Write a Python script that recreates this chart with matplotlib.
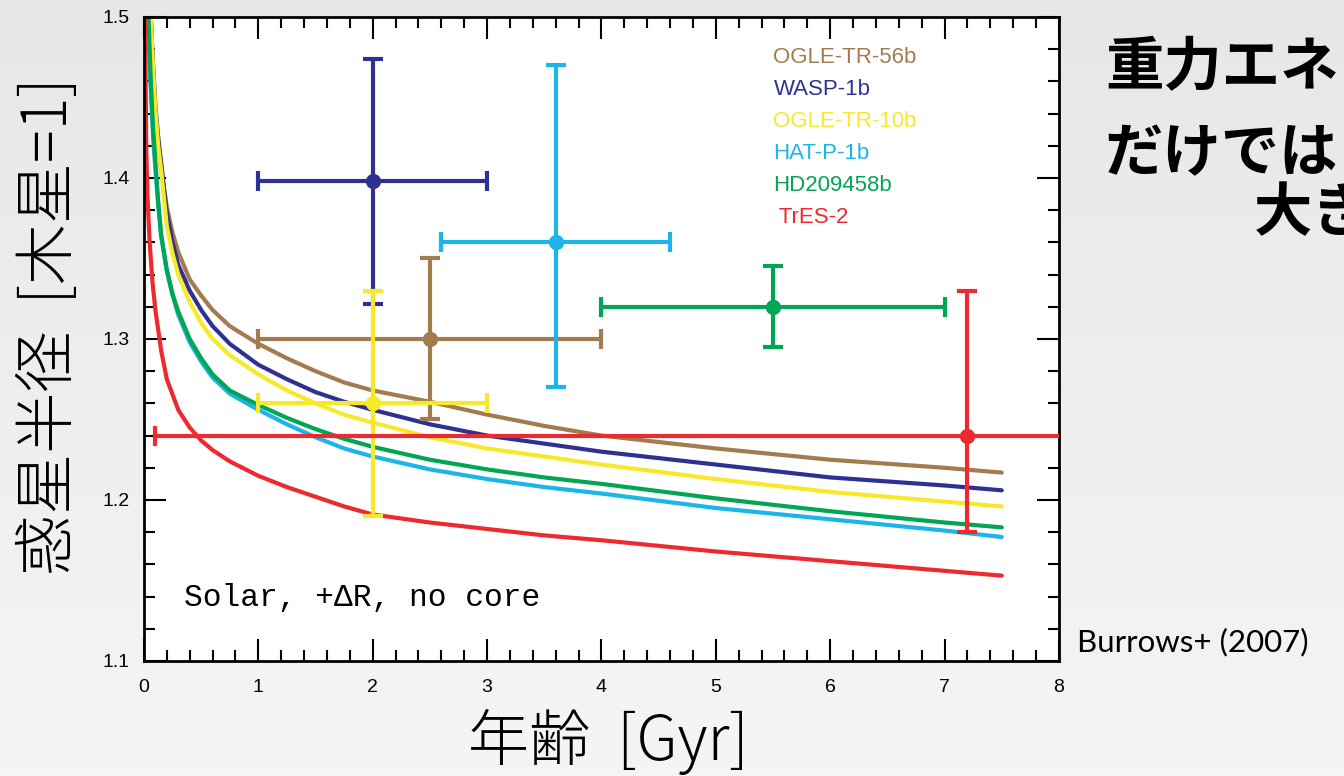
import numpy as np
import matplotlib
matplotlib.use("Agg")
import matplotlib.pyplot as plt
from matplotlib.ticker import MultipleLocator

# --- data ------------------------------------------------------------------
planets = ["OGLE-TR-56b", "WASP-1b", "OGLE-TR-10b", "HAT-P-1b", "HD209458b", "TrES-2"]
colors = ["#a37b4e", "#2e3192", "#f7e92a", "#1bb5ea", "#00a651", "#ed2a30"]

# evolutionary tracks (age [Gyr], radius [R_J])
age_56b = [0.06, 0.08, 0.1, 0.125, 0.15, 0.2, 0.25, 0.3, 0.4, 0.5, 0.6, 0.75, 1.0,
           1.25, 1.5, 1.75, 2.0, 2.5, 3.0, 3.5, 4.0, 5.0, 6.0, 7.0, 7.5]
rad_56b = [1.500, 1.465, 1.440, 1.420, 1.405, 1.382, 1.366, 1.354, 1.337, 1.327, 1.318, 1.308, 1.297,
           1.288, 1.280, 1.273, 1.268, 1.261, 1.253, 1.246, 1.240, 1.232, 1.225, 1.220, 1.217]

age_w1 = [0.06, 0.08, 0.1, 0.125, 0.15, 0.2, 0.25, 0.3, 0.4, 0.5, 0.6, 0.75, 1.0,
          1.25, 1.5, 1.75, 2.0, 2.5, 3.0, 3.5, 4.0, 5.0, 6.0, 7.0, 7.5]
rad_w1 = [1.500, 1.470, 1.445, 1.425, 1.410, 1.378, 1.360, 1.346, 1.330, 1.318, 1.308, 1.297, 1.284,
          1.275, 1.267, 1.261, 1.256, 1.247, 1.240, 1.235, 1.230, 1.222, 1.214, 1.209, 1.206]

age_10b = [0.06, 0.08, 0.1, 0.125, 0.15, 0.2, 0.25, 0.3, 0.4, 0.5, 0.6, 0.75, 1.0,
           1.25, 1.5, 1.75, 2.0, 2.5, 3.0, 3.5, 4.0, 5.0, 6.0, 7.0, 7.5]
rad_10b = [1.500, 1.468, 1.443, 1.420, 1.405, 1.370, 1.353, 1.340, 1.323, 1.310, 1.300, 1.290, 1.278,
           1.268, 1.260, 1.253, 1.248, 1.239, 1.232, 1.227, 1.222, 1.213, 1.205, 1.199, 1.196]

age_hat = [0.03, 0.06, 0.08, 0.1, 0.125, 0.15, 0.2, 0.25, 0.3, 0.4, 0.5, 0.6, 0.75, 1.0,
           1.25, 1.5, 1.75, 2.0, 2.5, 3.0, 3.5, 4.0, 5.0, 6.0, 7.0, 7.5]
rad_hat = [1.500, 1.455, 1.425, 1.405, 1.383, 1.364, 1.342, 1.327, 1.315, 1.298, 1.286, 1.276, 1.266, 1.256,
           1.247, 1.239, 1.232, 1.227, 1.219, 1.213, 1.208, 1.204, 1.195, 1.188, 1.181, 1.177]

age_hd = [0.04, 0.06, 0.08, 0.1, 0.125, 0.15, 0.2, 0.25, 0.3, 0.4, 0.5, 0.6, 0.75, 1.0,
          1.25, 1.5, 1.75, 2.0, 2.5, 3.0, 3.5, 4.0, 5.0, 6.0, 7.0, 7.5]
rad_hd = [1.500, 1.460, 1.430, 1.410, 1.385, 1.365, 1.343, 1.328, 1.317, 1.300, 1.288, 1.278, 1.268, 1.259,
          1.251, 1.244, 1.238, 1.233, 1.225, 1.219, 1.214, 1.210, 1.201, 1.193, 1.186, 1.183]

age_tres = [0.01, 0.02, 0.03, 0.05, 0.075, 0.1, 0.15, 0.2, 0.3, 0.4, 0.5, 0.6, 0.75, 1.0,
            1.25, 1.5, 1.75, 2.0, 2.5, 3.0, 3.5, 4.0, 5.0, 6.0, 7.0, 7.5]
rad_tres = [1.500, 1.420, 1.390, 1.360, 1.335, 1.318, 1.293, 1.275, 1.256, 1.245, 1.237, 1.231, 1.224, 1.215,
            1.208, 1.202, 1.196, 1.191, 1.186, 1.182, 1.178, 1.175, 1.168, 1.162, 1.156, 1.153]

tracks = [(age_56b, rad_56b), (age_w1, rad_w1), (age_10b, rad_10b),
          (age_hat, rad_hat), (age_hd, rad_hd), (age_tres, rad_tres)]

# observed planets
obs_age = [2.5, 2.0, 2.0, 3.6, 5.5, 7.2]
obs_age_err = [1.5, 1.0, 1.0, 1.0, 1.5, 7.1]
obs_rad = [1.30, 1.398, 1.26, 1.36, 1.32, 1.24]
obs_rad_lo = [0.05, 0.076, 0.07, 0.09, 0.025, 0.06]
obs_rad_hi = [0.05, 0.076, 0.07, 0.11, 0.025, 0.09]

# --- figure ------------------------------------------------------------------
fig = plt.figure(figsize=(13.44, 7.76), dpi=100)

# slide background gradient
bg = fig.add_axes([0, 0, 1, 1], zorder=-10)
grad = np.linspace(0, 1, 256).reshape(-1, 1)
bg.imshow(grad, aspect="auto", cmap=matplotlib.colors.LinearSegmentedColormap.from_list(
    "slide", ["#e7e7e7", "#f5f5f5"]), extent=[0, 1, 0, 1])
bg.axis("off")

ax = fig.add_axes([0.1071, 0.1482, 0.6808, 0.8300])
ax.set_facecolor("white")

for (a, r), c in zip(tracks, colors):
    ax.plot(a, r, color=c, lw=3, solid_capstyle="round", solid_joinstyle="round", zorder=2)

for i, c in enumerate(colors):
    ax.errorbar(obs_age[i], obs_rad[i],
                xerr=[[obs_age_err[i]], [obs_age_err[i]]],
                yerr=[[obs_rad_lo[i]], [obs_rad_hi[i]]],
                fmt="o", color=c, ms=10, elinewidth=3, capsize=7, capthick=3, zorder=3)

ax.set_xlim(0, 8)
ax.set_ylim(1.1, 1.5)
ax.xaxis.set_major_locator(MultipleLocator(1))
ax.xaxis.set_minor_locator(MultipleLocator(0.2))
ax.yaxis.set_major_locator(MultipleLocator(0.1))
ax.yaxis.set_minor_locator(MultipleLocator(0.02))
ax.tick_params(which="both", direction="in", top=True, right=True, width=1.5, colors="black")
ax.tick_params(which="major", length=16, labelsize=14)
ax.tick_params(axis="x", which="major", pad=13)
ax.tick_params(axis="y", which="major", pad=10)
ax.tick_params(which="minor", length=8)
ax.set_xticks(range(9))
ax.set_xticklabels([str(v) for v in range(9)], family="Liberation Sans")
ax.set_yticks([1.1, 1.2, 1.3, 1.4, 1.5])
ax.set_yticklabels(["1.1", "1.2", "1.3", "1.4", "1.5"], family="Liberation Sans")
for s in ax.spines.values():
    s.set_linewidth(2)

# legend as coloured text
for i, (name, c) in enumerate(zip(planets, colors)):
    label = " " + name if name == "TrES-2" else name
    ax.text(0.688, 0.9363 - i * 0.0497, label, color=c, fontsize=16,
            family="Liberation Sans", transform=ax.transAxes, va="center")

ax.text(0.044, 0.098, "Solar, +ΔR, no core", family="Liberation Mono",
        fontsize=22.5, transform=ax.transAxes, va="center")

ax.set_xlabel("年齢  [Gyr]", family=["Noto Sans CJK JP", "DejaVu Sans"], fontweight="light",
              fontsize=44)
ax.xaxis.set_label_coords(0.508, -0.074)
ax.set_ylabel("惑星半径  [木星=1]", family=["Noto Sans CJK JP", "DejaVu Sans"], fontweight="light",
              fontsize=44)
ax.yaxis.set_label_coords(-0.068, 0.52)

# slide text to the right (cut off by the slide edge, as in the reference)
jp = dict(family="Noto Sans CJK JP", fontweight="bold", fontsize=42, va="center")
fig.text(0.822, 0.912, "重力エネ", **jp)
fig.text(0.822, 0.801, "だけでは", **jp)
fig.text(0.933, 0.724, "大き", **jp)
fig.text(0.801, 0.172, "Burrows+ (2007)", family="Lato", fontsize=22.5, va="center")

fig.savefig("out.png", dpi=100)
